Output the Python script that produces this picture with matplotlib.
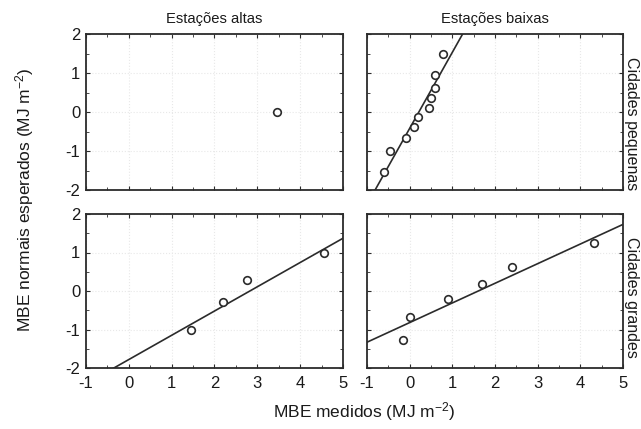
import numpy as np
import matplotlib
matplotlib.use("Agg")
import matplotlib.pyplot as plt

plt.rcParams['font.family'] = ['Liberation Sans', 'DejaVu Sans']
plt.rcParams['axes.unicode_minus'] = False
plt.rcParams['mathtext.default'] = 'regular'

# colunas / linhas do painel
col_titles = ['Estações altas', 'Estações baixas']
row_titles = ['Cidades pequenas', 'Cidades grandes']

# pontos (MBE medido, valor normal esperado)
x_alta_peq = [3.45]
y_alta_peq = [0.0]

x_baixa_peq = [-0.59, -0.46, -0.09, 0.11, 0.19, 0.46, 0.49, 0.585, 0.59, 0.79]
y_baixa_peq = [-1.53, -1.0, -0.66, -0.39, -0.14, 0.11, 0.35, 0.62, 0.95, 1.5]

x_alta_gr = [1.45, 2.2, 2.75, 4.55]
y_alta_gr = [-1.02, -0.29, 0.29, 0.99]

x_baixa_gr = [-0.16, 0.01, 0.91, 1.69, 2.41, 4.33]
y_baixa_gr = [-1.28, -0.67, -0.22, 0.17, 0.62, 1.24]

# retas ajustadas (inclinação, intercepto); None = sem reta
fit_alta_peq = None
fit_baixa_peq = (1.95, -0.42)
fit_alta_gr = (0.63, -1.78)
fit_baixa_gr = (0.51, -0.82)

panels = [[(x_alta_peq, y_alta_peq, fit_alta_peq), (x_baixa_peq, y_baixa_peq, fit_baixa_peq)],
          [(x_alta_gr, y_alta_gr, fit_alta_gr), (x_baixa_gr, y_baixa_gr, fit_baixa_gr)]]

fig = plt.figure(figsize=(6.41, 4.29), dpi=100)

lefts = [86 / 641, 367 / 641]
widths = [257 / 641, 256 / 641]
bottoms = [1 - 190 / 429, 1 - 368 / 429]
heights = [156 / 429, 154 / 429]
row_label_y = [1 - 124 / 429, 1 - 297 / 429]

dark = '#2b2b2b'
xx = np.array([-1.0, 5.0])

for r in range(2):
    for c in range(2):
        ax = fig.add_axes([lefts[c], bottoms[r], widths[c], heights[r]])
        px, py, fit = panels[r][c]
        ax.grid(True, color='#e8e8e8', lw=0.8, ls=':')
        ax.set_axisbelow(True)
        if fit is not None:
            ax.plot(xx, fit[0] * xx + fit[1], color=dark, lw=1.2, zorder=2)
        ax.scatter(px, py, s=30, facecolors='white', edgecolors=dark, linewidths=1.2, zorder=3)
        ax.set_xlim(-1, 5)
        ax.set_ylim(-2, 2)
        ax.set_xticks(range(-1, 6))
        ax.set_yticks(range(-2, 3))
        ax.set_xticks(np.arange(-1, 5.01, 0.5), minor=True)
        ax.set_yticks(np.arange(-2, 2.01, 0.5), minor=True)
        ax.tick_params(which='both', direction='in', top=True, right=True,
                       color=dark, labelsize=12, labelcolor='#1a1a1a')
        ax.tick_params(which='major', length=3)
        ax.tick_params(which='minor', length=2)
        ax.tick_params(axis='x', pad=6)
        ax.tick_params(axis='y', pad=4)
        for sp in ax.spines.values():
            sp.set_color(dark)
            sp.set_linewidth(1.3)
        if r == 0:
            ax.tick_params(labelbottom=False)
            ax.set_title(col_titles[c], fontsize=10.6, color='#1a1a1a', pad=8)
        if c == 1:
            ax.tick_params(labelleft=False)
            fig.text(632 / 641, row_label_y[r], row_titles[r], rotation=-90,
                     ha='center', va='center', fontsize=11.5, color='#1a1a1a')

fig.text(25 / 641, 1 - 200 / 429, 'MBE normais esperados (MJ m$^{-2}$)', rotation=90,
         ha='center', va='center', fontsize=12.5, color='#1a1a1a')
fig.text(364 / 641, 1 - 412 / 429, 'MBE medidos (MJ m$^{-2}$)',
         ha='center', va='center', fontsize=12.5, color='#1a1a1a')

fig.savefig('out.png', dpi=100)
